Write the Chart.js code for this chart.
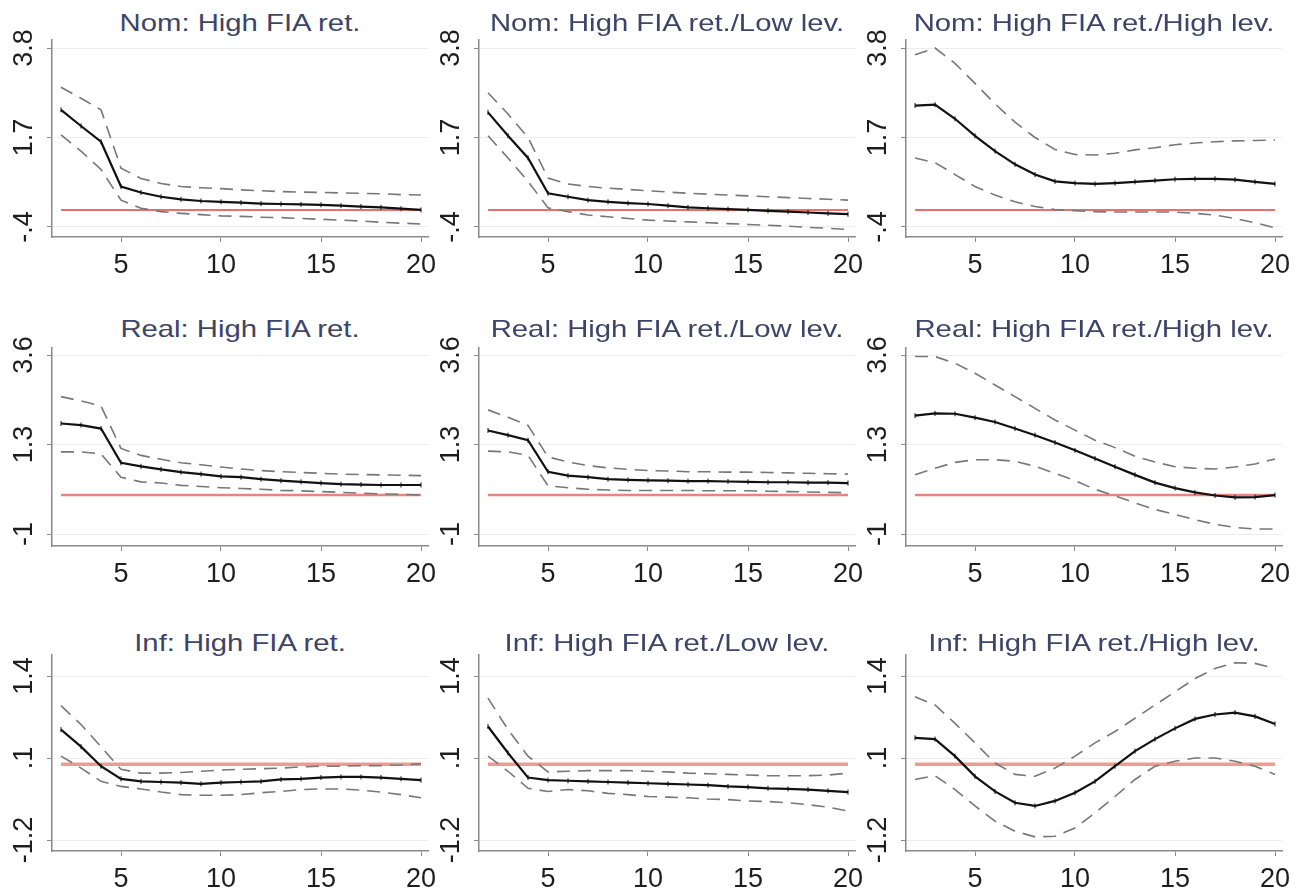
<!DOCTYPE html>
<html>
<head>
<meta charset="utf-8">
<script src="https://cdn.jsdelivr.net/npm/chart.js@4.4.1/dist/chart.umd.min.js"></script>
<style>
  body { margin: 0; background: #fff; width: 1305px; height: 895px; position: relative; overflow: hidden;
         font-family: "Liberation Sans", Arial, sans-serif; }
  .panel { position: absolute; }
  .ttl { position: absolute; text-align: center; color: #3d4468; font-size: 24px; white-space: nowrap;
         height: 30px; line-height: 30px; transform: scaleX(1.22); transform-origin: center; }
</style>
</head>
<body>
<script>
// horizons on the x axis
const horizons = [2, 3, 4, 5, 6, 7, 8, 9, 10, 11, 12, 13, 14, 15, 16, 17, 18, 19, 20];
const zeroLine = [0, 0, 0, 0, 0, 0, 0, 0, 0, 0, 0, 0, 0, 0, 0, 0, 0, 0, 0];
const xTicks = [5, 10, 15, 20];

// Nominal
const nomRet     = [2.35, 1.97, 1.60, 0.55, 0.41, 0.31, 0.25, 0.21, 0.19, 0.17, 0.15, 0.14, 0.13, 0.12, 0.10, 0.08, 0.06, 0.03, 0.00];
const nomRetHi   = [2.88, 2.62, 2.35, 0.98, 0.74, 0.62, 0.55, 0.52, 0.50, 0.47, 0.45, 0.43, 0.42, 0.41, 0.40, 0.39, 0.38, 0.36, 0.35];
const nomRetLo   = [1.76, 1.38, 0.95, 0.23, 0.04, -0.04, -0.08, -0.11, -0.14, -0.15, -0.17, -0.18, -0.20, -0.22, -0.24, -0.26, -0.29, -0.31, -0.33];
const nomLow     = [2.29, 1.74, 1.22, 0.39, 0.31, 0.23, 0.19, 0.16, 0.14, 0.10, 0.06, 0.04, 0.02, 0.00, -0.02, -0.04, -0.06, -0.08, -0.10];
const nomLowHi   = [2.75, 2.25, 1.70, 0.75, 0.61, 0.55, 0.51, 0.48, 0.45, 0.42, 0.39, 0.37, 0.35, 0.33, 0.31, 0.29, 0.27, 0.25, 0.23];
const nomLowLo   = [1.74, 1.22, 0.67, 0.05, -0.04, -0.12, -0.16, -0.20, -0.24, -0.26, -0.28, -0.30, -0.32, -0.34, -0.36, -0.38, -0.41, -0.43, -0.46];
const nomHigh    = [2.45, 2.47, 2.14, 1.74, 1.38, 1.07, 0.83, 0.67, 0.63, 0.61, 0.63, 0.66, 0.69, 0.72, 0.73, 0.73, 0.71, 0.66, 0.61];
const nomHighHi  = [3.64, 3.80, 3.44, 2.97, 2.49, 2.06, 1.70, 1.42, 1.30, 1.29, 1.33, 1.41, 1.46, 1.53, 1.57, 1.60, 1.62, 1.63, 1.64];
const nomHighLo  = [1.22, 1.11, 0.83, 0.55, 0.35, 0.19, 0.08, 0.01, -0.02, -0.04, -0.05, -0.05, -0.05, -0.05, -0.08, -0.12, -0.20, -0.30, -0.42];

// Real
const realRet    = [1.84, 1.80, 1.71, 0.83, 0.74, 0.66, 0.59, 0.54, 0.48, 0.46, 0.41, 0.37, 0.34, 0.31, 0.28, 0.27, 0.26, 0.26, 0.26];
const realRetHi  = [2.53, 2.42, 2.29, 1.20, 1.02, 0.92, 0.83, 0.78, 0.72, 0.67, 0.63, 0.60, 0.58, 0.56, 0.54, 0.53, 0.52, 0.51, 0.50];
const realRetLo  = [1.11, 1.11, 1.06, 0.46, 0.34, 0.31, 0.25, 0.22, 0.19, 0.17, 0.15, 0.12, 0.11, 0.09, 0.07, 0.05, 0.03, 0.02, 0.00];
const realLow    = [1.66, 1.54, 1.41, 0.60, 0.50, 0.46, 0.41, 0.39, 0.38, 0.37, 0.36, 0.36, 0.35, 0.34, 0.33, 0.33, 0.32, 0.32, 0.31];
const realLowHi  = [2.19, 2.00, 1.79, 0.98, 0.85, 0.76, 0.70, 0.66, 0.63, 0.62, 0.60, 0.60, 0.59, 0.59, 0.58, 0.57, 0.56, 0.55, 0.54];
const realLowLo  = [1.13, 1.11, 1.02, 0.24, 0.19, 0.15, 0.13, 0.12, 0.12, 0.12, 0.12, 0.11, 0.11, 0.11, 0.10, 0.09, 0.08, 0.07, 0.06];
const realHigh   = [2.04, 2.10, 2.09, 1.99, 1.88, 1.71, 1.54, 1.35, 1.15, 0.94, 0.73, 0.52, 0.32, 0.18, 0.07, -0.01, -0.06, -0.05, 0.00];
const realHighHi = [3.56, 3.56, 3.39, 3.13, 2.83, 2.53, 2.23, 1.93, 1.67, 1.41, 1.22, 1.00, 0.85, 0.73, 0.69, 0.67, 0.72, 0.80, 0.93];
const realHighLo = [0.52, 0.69, 0.84, 0.91, 0.91, 0.87, 0.74, 0.56, 0.37, 0.15, -0.02, -0.20, -0.37, -0.50, -0.63, -0.75, -0.83, -0.87, -0.87];

// Inflation
const infRet     = [0.55, 0.28, -0.03, -0.23, -0.27, -0.28, -0.29, -0.31, -0.29, -0.28, -0.27, -0.24, -0.23, -0.21, -0.20, -0.20, -0.21, -0.23, -0.25];
const infRetHi   = [0.93, 0.63, 0.28, -0.08, -0.14, -0.14, -0.13, -0.11, -0.09, -0.08, -0.07, -0.06, -0.04, -0.03, -0.03, -0.02, -0.02, -0.01, 0.01];
const infRetLo   = [0.13, -0.06, -0.27, -0.35, -0.39, -0.44, -0.48, -0.49, -0.49, -0.48, -0.45, -0.43, -0.40, -0.39, -0.39, -0.41, -0.44, -0.48, -0.53];
const infLow     = [0.60, 0.18, -0.21, -0.25, -0.26, -0.27, -0.28, -0.29, -0.30, -0.31, -0.32, -0.33, -0.35, -0.36, -0.38, -0.39, -0.40, -0.42, -0.44];
const infLowHi   = [1.05, 0.55, 0.13, -0.12, -0.11, -0.10, -0.10, -0.10, -0.11, -0.12, -0.14, -0.15, -0.16, -0.17, -0.18, -0.18, -0.18, -0.17, -0.14];
const infLowLo   = [0.13, -0.11, -0.38, -0.43, -0.40, -0.42, -0.46, -0.48, -0.51, -0.52, -0.53, -0.55, -0.56, -0.58, -0.59, -0.61, -0.64, -0.68, -0.74];
const infHigh    = [0.42, 0.40, 0.13, -0.19, -0.43, -0.61, -0.66, -0.58, -0.45, -0.27, -0.03, 0.21, 0.40, 0.57, 0.72, 0.79, 0.82, 0.76, 0.64];
const infHighHi  = [1.07, 0.94, 0.65, 0.34, 0.02, -0.16, -0.19, -0.06, 0.13, 0.34, 0.52, 0.73, 0.94, 1.15, 1.36, 1.52, 1.61, 1.60, 1.52];
const infHighLo  = [-0.24, -0.18, -0.40, -0.66, -0.90, -1.06, -1.15, -1.14, -1.01, -0.77, -0.51, -0.24, -0.03, 0.05, 0.10, 0.10, 0.05, -0.03, -0.16];

// y axis per row
const rowTicks = [[-0.4, 1.7, 3.8], [-1, 1.3, 3.6], [-1.2, 0.1, 1.4]];
const rowTickLabels = [["-.4", "1.7", "3.8"], ["-1", "1.3", "3.6"], ["-1.2", ".1", "1.4"]];
const rowMin = [-0.635, -1.308, -1.374];
const rowMax = [3.988, 3.78, 1.733];

const titles = [
  "Nom: High FIA ret.", "Nom: High FIA ret./Low lev.", "Nom: High FIA ret./High lev.",
  "Real: High FIA ret.", "Real: High FIA ret./Low lev.", "Real: High FIA ret./High lev.",
  "Inf: High FIA ret.", "Inf: High FIA ret./Low lev.", "Inf: High FIA ret./High lev."
];
const series = [
  [nomRet, nomRetHi, nomRetLo], [nomLow, nomLowHi, nomLowLo], [nomHigh, nomHighHi, nomHighLo],
  [realRet, realRetHi, realRetLo], [realLow, realLowHi, realLowLo], [realHigh, realHighHi, realHighLo],
  [infRet, infRetHi, infRetLo], [infLow, infLowHi, infLowLo], [infHigh, infHighHi, infHighLo]
];

// layout of the 3x3 grid
const colLeft = [52, 479, 906];
const rowTop = [40, 348, 655];
const rowBottom = [237, 546, 851];
const titleMid = [23, 329, 643];
const plotW = 376;
const yAxisW = 52, xAxisH = 50, padTop = 25, padRight = 20;
const tickFont = 27;
// zero line looks heavier and pinker further down the figure
const zeroColor = ['#e2746d', '#e9857f', '#ef9a95'];
const zeroWidth = [2, 2.5, 3.5];

Chart.defaults.font.family = "'Liberation Sans', Arial, sans-serif";
Chart.defaults.color = '#1e1e1e';

const measure = document.createElement('canvas').getContext('2d');
measure.font = tickFont + "px 'Liberation Sans', Arial, sans-serif";

function pts(arr) {
  return horizons.map((h, k) => ({ x: h, y: arr[k] }));
}

function makePanel(i) {
  const r = Math.floor(i / 3), c = i % 3;
  const plotH = rowBottom[r] - rowTop[r];

  const t = document.createElement('div');
  t.className = 'ttl';
  t.textContent = titles[i];
  t.style.left = colLeft[c] + 'px';
  t.style.width = plotW + 'px';
  t.style.top = (titleMid[r] - 15) + 'px';
  document.body.appendChild(t);

  const box = document.createElement('div');
  box.className = 'panel';
  box.style.left = (colLeft[c] - yAxisW) + 'px';
  box.style.top = (rowTop[r] - padTop) + 'px';
  const cv = document.createElement('canvas');
  cv.width = yAxisW + plotW + padRight;
  cv.height = padTop + plotH + xAxisH;
  box.appendChild(cv);
  document.body.appendChild(box);

  // rotated labels are centred 27px left of the axis
  const widest = Math.max(...rowTickLabels[r].map(s => measure.measureText(s).width));
  const yPad = 27 - 5 - widest / 2;

  const [mid, hi, lo] = series[i];
  new Chart(cv, {
    type: 'line',
    data: {
      datasets: [
        { data: pts(mid), borderColor: '#111', borderWidth: 2.2, pointStyle: 'line', pointRotation: 90,
          pointRadius: 2.5, pointBorderWidth: 1, pointBorderColor: '#111', order: 0 },
        { data: pts(hi), borderColor: '#777', borderWidth: 1.6, borderDash: [13, 8], pointRadius: 0, order: 1 },
        { data: pts(lo), borderColor: '#777', borderWidth: 1.6, borderDash: [13, 8], pointRadius: 0, order: 1 },
        { data: pts(zeroLine), borderColor: zeroColor[r], borderWidth: zeroWidth[r], pointRadius: 0, order: 2 }
      ]
    },
    options: {
      responsive: false,
      devicePixelRatio: 1,
      animation: false,
      layout: { padding: { top: padTop, right: padRight, left: 0, bottom: 0 } },
      plugins: { legend: { display: false }, tooltip: { enabled: false }, title: { display: false } },
      scales: {
        x: {
          type: 'linear', min: 1.55, max: 20.35,
          afterBuildTicks: a => { a.ticks = xTicks.map(v => ({ value: v })); },
          afterFit: a => { a.height = xAxisH; },
          ticks: { font: { size: tickFont }, padding: 7, autoSkip: false, maxRotation: 0,
                   callback: v => String(v) },
          grid: { drawOnChartArea: false, tickColor: '#8a8a8a', tickLength: 5 },
          border: { display: true, color: '#8a8a8a', width: 1.5 }
        },
        y: {
          type: 'linear', min: rowMin[r], max: rowMax[r],
          afterBuildTicks: a => { a.ticks = rowTicks[r].map(v => ({ value: v })); },
          afterFit: a => { a.width = yAxisW; },
          ticks: { font: { size: tickFont }, padding: yPad, autoSkip: false, minRotation: 90, maxRotation: 90,
                   crossAlign: 'center', callback: (v, k) => rowTickLabels[r][k] },
          grid: { color: '#ededed', lineWidth: 1, tickColor: '#8a8a8a', tickLength: 5 },
          border: { display: true, color: '#8a8a8a', width: 1.5 }
        }
      }
    }
  });
}

for (let i = 0; i < 9; i++) makePanel(i);
</script>
</body>
</html>
